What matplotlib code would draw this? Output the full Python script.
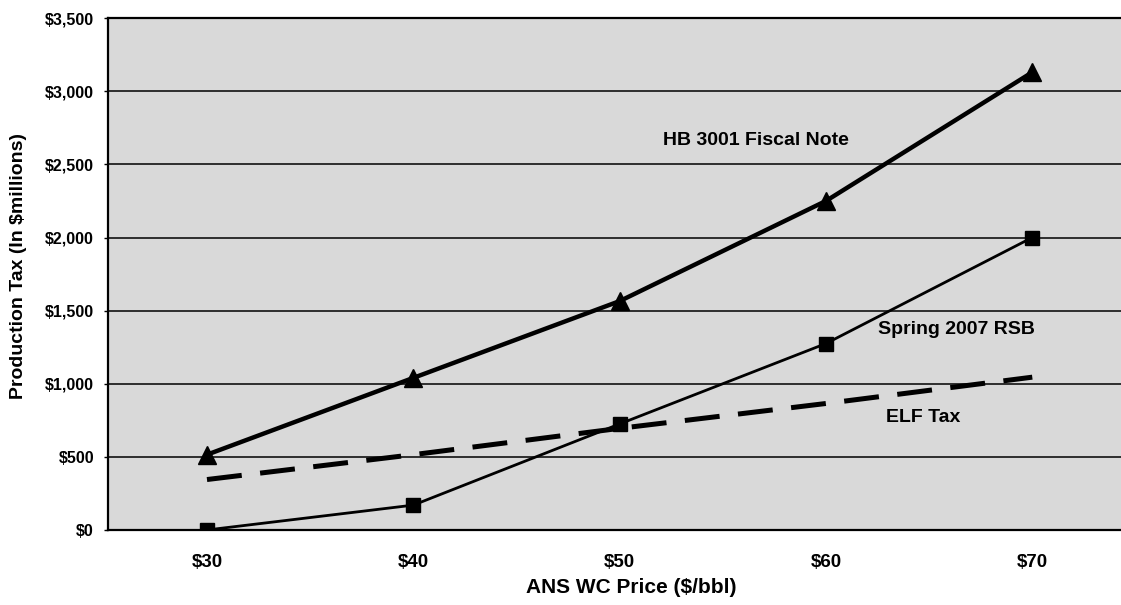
import matplotlib.pyplot as plt

prices = ['$30', '$40', '$50', '$60', '$70']
hb_3001 = [515, 1040, 1565, 2250, 3130]
spring_rsb = [0, 170, 725, 1275, 2000]
elf_tax = [345, 515, 695, 865, 1045]

yticks = [0, 500, 1000, 1500, 2000, 2500, 3000, 3500]
ylabels = ['$0', '$500', '$1,000', '$1,500', '$2,000', '$2,500', '$3,000', '$3,500']

plt.rcParams['font.family'] = ['Liberation Sans', 'DejaVu Sans']
plt.rcParams['font.weight'] = 'bold'

fig = plt.figure(figsize=(11.21, 6.05), dpi=100)
ax = fig.add_axes([0.0963, 0.124, 0.9037, 0.846])
ax.set_facecolor('#d9d9d9')

x = list(range(len(prices)))
for y in yticks:
    ax.axhline(y, color='black', lw=1.1, zorder=1)

# three series
ax.plot(x, hb_3001, color='black', lw=3.2, marker='^', markersize=13, zorder=3)
ax.plot(x, spring_rsb, color='black', lw=2.0, marker='s', markersize=10, zorder=3)
ax.plot(x, elf_tax, color='black', lw=3.6, dashes=(7, 3.7), zorder=3)

ax.text(2.66, 2660, 'HB 3001 Fiscal Note', ha='center', va='center', fontsize=14, fontweight='bold')
ax.text(3.25, 1370, 'Spring 2007 RSB', ha='left', va='center', fontsize=14, fontweight='bold')
ax.text(3.29, 770, 'ELF Tax', ha='left', va='center', fontsize=14, fontweight='bold')

ax.set_xlim(-0.48, 4.43)
ax.set_ylim(0, 3500)
ax.set_xticks(x)
ax.set_xticklabels(prices, fontsize=13.5, fontweight='bold')
ax.set_yticks(yticks)
ax.set_yticklabels(ylabels, fontsize=11.5, fontweight='bold')
ax.tick_params(axis='x', length=0, pad=17)
ax.tick_params(axis='y', length=3, width=1, pad=7)

for side in ['top', 'left', 'bottom']:
    ax.spines[side].set_linewidth(1.6)
ax.spines['right'].set_visible(False)

ax.set_xlabel('ANS WC Price ($/bbl)', fontsize=15, fontweight='bold')
ax.xaxis.set_label_coords(0.517, -0.093)
ax.set_ylabel('Production Tax (In $millions)', fontsize=14, fontweight='bold')
ax.yaxis.set_label_coords(-0.08, 0.515)

fig.savefig('out.png', dpi=100)
